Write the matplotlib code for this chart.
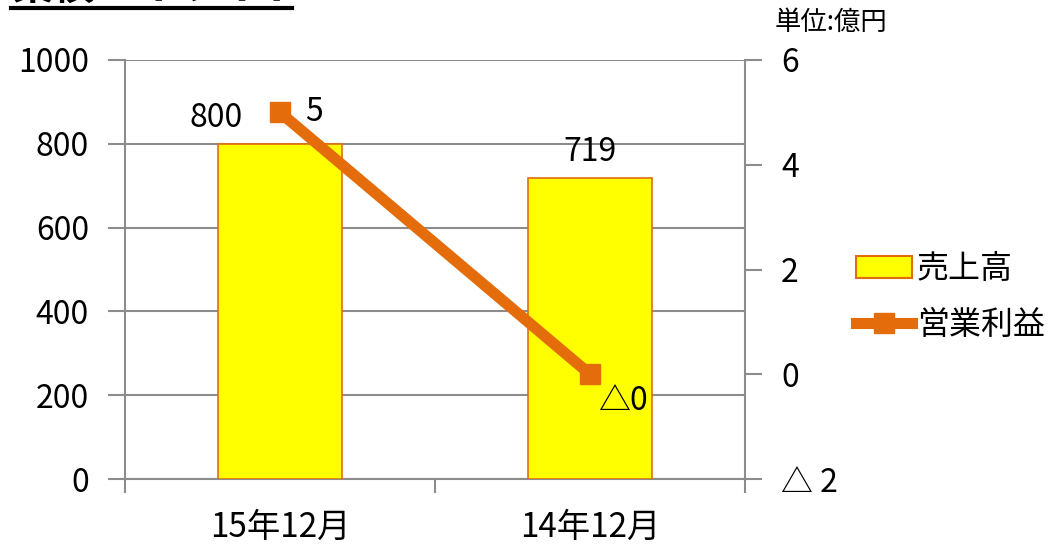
import matplotlib.pyplot as plt
import numpy as np
from matplotlib.lines import Line2D
from matplotlib.patches import Patch

plt.rcParams['font.family'] = ['Noto Sans CJK JP', 'DejaVu Sans']

periods = ['15年12月', '14年12月']
sales = [800, 719]
profit = [5, 0]
profit_labels = ['5', '△0']
left_ticks = [0, 200, 400, 600, 800, 1000]
right_ticks = [-2, 0, 2, 4, 6]
right_labels = ['△ 2', '0', '2', '4', '6']

bar_color = '#FFFF00'
line_color = '#E46C0A'
grid_color = '#8C8C8C'
fs = 23

fig = plt.figure(figsize=(10.48, 5.44), dpi=100)
ax = fig.add_axes([125 / 1048, 1 - 479 / 544, 620 / 1048, 419 / 544])
ax2 = ax.twinx()

x = np.arange(len(periods))
ax.bar(x, sales, width=0.4, color=bar_color, edgecolor=line_color, linewidth=1.2, zorder=3)
ax.set_xlim(-0.5, 1.5)
ax.set_ylim(0, 1000)
ax.set_yticks(left_ticks)
ax.set_xticks([-0.5, 0.5, 1.5], minor=False)
ax.set_xticklabels([])
ax.set_xticks(x, minor=True)
ax.set_xticklabels(periods, minor=True)
ax.tick_params(axis='x', which='minor', length=0, pad=22, labelsize=24)
ax.tick_params(axis='x', which='major', length=10, width=1.5, color=grid_color)
ax.tick_params(axis='y', length=12, width=1.5, color=grid_color, labelsize=fs, pad=14)
ax.grid(axis='y', color=grid_color, linewidth=1.5, zorder=0)
for s in ['top', 'right']:
    ax.spines[s].set_visible(False)
for s in ['left', 'bottom']:
    ax.spines[s].set_color(grid_color)
    ax.spines[s].set_linewidth(1.5)

ax2.plot(x, profit, color=line_color, linewidth=8, marker='s', markersize=15,
         solid_capstyle='butt', zorder=5)
ax2.set_ylim(-2, 6)
ax2.set_yticks(right_ticks)
ax2.set_yticklabels(right_labels)
ax2.tick_params(axis='y', length=12, width=1.5, color=grid_color, labelsize=fs, pad=14)
for s in ['top', 'left', 'bottom']:
    ax2.spines[s].set_visible(False)
ax2.spines['right'].set_color(grid_color)
ax2.spines['right'].set_linewidth(1.5)

# value labels
ax.annotate(str(sales[0]), (x[0], sales[0]), xytext=(-27, 7), textcoords='offset points',
            ha='right', va='bottom', fontsize=fs)
ax.annotate(str(sales[1]), (x[1], sales[1]), xytext=(0, 7), textcoords='offset points',
            ha='center', va='bottom', fontsize=fs)
ax2.annotate(profit_labels[0], (x[0], profit[0]), xytext=(18, 0), textcoords='offset points',
             ha='left', va='center', fontsize=fs)
ax2.annotate(profit_labels[1], (x[1], profit[1]), xytext=(6, -19), textcoords='offset points',
             ha='left', va='center', fontsize=fs)

fig.text(775 / 1048, 1 - 22 / 544, '単位:億円', fontsize=19, va='center', ha='left')

# heading (runs off the top edge)
fig.text(12 / 1048, 1.0, '業績ハイライト', fontsize=30, fontweight='bold',
         va='baseline', ha='left')
fig.add_artist(Line2D([11 / 1048, 292 / 1048], [1 - 8 / 544, 1 - 8 / 544],
                      color='black', linewidth=3, transform=fig.transFigure))

handles = [Patch(facecolor=bar_color, edgecolor=line_color, linewidth=1.5),
           Line2D([0], [0], color=line_color, linewidth=8, marker='s', markersize=15)]
fig.legend(handles, ['売上高', '営業利益'], loc='center left',
           bbox_to_anchor=(856 / 1048, 1 - 297 / 544), frameon=False, fontsize=fs,
           handlelength=1.75, labelspacing=0.75, handletextpad=0.15,
           borderpad=0, borderaxespad=0)

fig.savefig('out.png', dpi=100)
